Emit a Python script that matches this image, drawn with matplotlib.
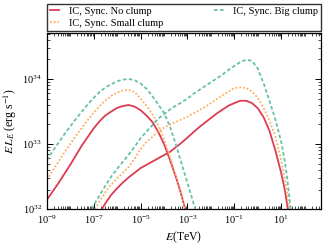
import numpy as np
import matplotlib
matplotlib.use("Agg")
import matplotlib.pyplot as plt
from matplotlib.ticker import LogLocator, NullFormatter

plt.rcParams["font.family"] = ["Liberation Serif", "DejaVu Serif"]
plt.rcParams["mathtext.fontset"] = "stix"

# ── Données (log10 E [TeV], log10 E L_E [erg/s]) ──
# Synchrotron
sync_none_logE = [-9.0, -8.75, -8.5, -8.25, -8.0, -7.75, -7.5, -7.25, -7.0, -6.75,
                  -6.5, -6.25, -6.0, -5.75, -5.5, -5.25, -5.0, -4.75, -4.5, -4.25,
                  -4.0, -3.75, -3.5, -3.3, -3.15, -3.0]
sync_none_logL = [32.14, 32.27, 32.40, 32.54, 32.68, 32.83, 32.98, 33.11, 33.24, 33.35,
                  33.44, 33.50, 33.555, 33.585, 33.60, 33.575, 33.52, 33.44, 33.34, 33.19,
                  33.00, 32.76, 32.50, 32.27, 32.07, 31.85]

sync_small_logE = [-9.0, -8.75, -8.5, -8.25, -8.0, -7.75, -7.5, -7.25, -7.0, -6.75,
                   -6.5, -6.25, -6.0, -5.75, -5.5, -5.25, -5.0, -4.75, -4.5, -4.25,
                   -4.0, -3.75, -3.5, -3.3, -3.15, -3.0]
sync_small_logL = [32.45, 32.59, 32.73, 32.87, 33.00, 33.13, 33.25, 33.37, 33.48, 33.58,
                   33.67, 33.74, 33.79, 33.825, 33.83, 33.80, 33.70, 33.59, 33.46, 33.30,
                   33.07, 32.80, 32.52, 32.29, 32.09, 31.87]

sync_big_logE = [-9.0, -8.75, -8.5, -8.25, -8.0, -7.75, -7.5, -7.25, -7.0, -6.75,
                 -6.5, -6.25, -6.0, -5.75, -5.5, -5.25, -5.0, -4.75, -4.5, -4.25,
                 -4.0, -3.75, -3.5, -3.25, -3.0, -2.75, -2.5]
sync_big_logL = [32.75, 32.89, 33.02, 33.15, 33.27, 33.39, 33.50, 33.61, 33.71, 33.80,
                 33.87, 33.92, 33.965, 33.99, 34.00, 33.98, 33.93, 33.85, 33.74, 33.61,
                 33.48, 33.27, 33.00, 32.70, 32.40, 32.10, 31.80]

# Inverse Compton
ic_none_logE = [-6.65, -6.5, -6.25, -6.0, -5.75, -5.5, -5.25, -5.0, -4.75, -4.5,
                -4.25, -4.0, -3.75, -3.5, -3.25, -3.0, -2.75, -2.5, -2.25, -2.0,
                -1.75, -1.5, -1.25, -1.0, -0.75, -0.5, -0.25, 0.0, 0.25, 0.5,
                0.75, 1.0, 1.15, 1.25, 1.33]
ic_none_logL = [32.0, 32.09, 32.22, 32.32, 32.41, 32.49, 32.56, 32.63, 32.68, 32.73,
                32.78, 32.83, 32.88, 32.95, 33.02, 33.10, 33.18, 33.26, 33.33, 33.40,
                33.47, 33.53, 33.59, 33.63, 33.665, 33.665, 33.63, 33.55, 33.41, 33.20,
                32.90, 32.55, 32.30, 32.07, 31.85]

ic_small_logE = [-6.94, -6.75, -6.5, -6.25, -6.0, -5.75, -5.5, -5.25, -5.0, -4.75,
                 -4.5, -4.25, -4.0, -3.75, -3.5, -3.25, -3.0, -2.75, -2.5, -2.25,
                 -2.0, -1.75, -1.5, -1.25, -1.0, -0.75, -0.5, -0.25, 0.0, 0.25,
                 0.5, 0.75, 1.0, 1.15, 1.25, 1.35]
ic_small_logL = [32.0, 32.12, 32.26, 32.38, 32.47, 32.56, 32.65, 32.78, 32.92, 33.03,
                 33.11, 33.19, 33.25, 33.30, 33.34, 33.38, 33.42, 33.47, 33.52, 33.57,
                 33.63, 33.69, 33.75, 33.81, 33.86, 33.87, 33.86, 33.81, 33.71, 33.55,
                 33.36, 33.12, 32.75, 32.47, 32.27, 31.95]

ic_big_logE = [-7.08, -6.9, -6.75, -6.5, -6.25, -6.0, -5.75, -5.5, -5.25, -5.0,
               -4.75, -4.5, -4.25, -4.0, -3.75, -3.5, -3.25, -3.0, -2.75, -2.5,
               -2.25, -2.0, -1.75, -1.5, -1.25, -1.0, -0.75, -0.5, -0.25, 0.0,
               0.25, 0.5, 0.75, 1.0, 1.15, 1.25, 1.35, 1.45]
ic_big_logL = [32.0, 32.12, 32.21, 32.36, 32.50, 32.62, 32.73, 32.84, 32.96, 33.09,
               33.19, 33.29, 33.39, 33.46, 33.53, 33.59, 33.64, 33.70, 33.77, 33.83,
               33.89, 33.95, 34.01, 34.07, 34.14, 34.20, 34.26, 34.295, 34.28, 34.16,
               33.93, 33.66, 33.38, 33.03, 32.74, 32.48, 32.17, 31.85]

labels = ["IC, Sync. No clump", "IC, Sync. Small clump", "IC, Sync. Big clump"]
colors = ["#dc3c52", "#fdae61", "#66c2a5"]
styles = ["-", (0, (1, 1.1)), (0, (2.0, 1.3))]


def to_lin(a):
    return 10.0 ** np.array(a)


fig = plt.figure(figsize=(3.27, 2.46), dpi=100)
ax = fig.add_axes([0.143, 0.150, 0.839, 0.714])

series = [
    (ic_none_logE, ic_none_logL, sync_none_logE, sync_none_logL),
    (ic_small_logE, ic_small_logL, sync_small_logE, sync_small_logL),
    (ic_big_logE, ic_big_logL, sync_big_logE, sync_big_logL),
]
handles = []
for (iE, iL, sE, sL), lab, c, ls in zip(series, labels, colors, styles):
    h, = ax.plot(to_lin(iE), to_lin(iL), color=c, ls=ls, lw=1.3, label=lab)
    ax.plot(to_lin(sE), to_lin(sL), color=c, ls=ls, lw=1.3)
    handles.append(h)

ax.set_xscale("log")
ax.set_yscale("log")
ax.set_xlim(1e-9, 5e2)
ax.set_ylim(1e32, 10 ** 34.7)

ax.set_xticks([10.0 ** k for k in range(-9, 3, 2)])
ax.xaxis.set_minor_locator(LogLocator(base=10, subs=np.arange(1, 10), numticks=100))
ax.xaxis.set_minor_formatter(NullFormatter())
ax.yaxis.set_major_locator(LogLocator(base=10, numticks=10))
ax.yaxis.set_minor_locator(LogLocator(base=10, subs=np.arange(2, 10), numticks=100))
ax.yaxis.set_minor_formatter(NullFormatter())

ax.tick_params(which="both", direction="in", top=True, right=True, labelsize=7.5)
ax.tick_params(which="major", length=4, width=0.7)
ax.tick_params(which="minor", length=2, width=0.5)
for sp in ax.spines.values():
    sp.set_linewidth(0.9)

ax.set_xlabel(r"$E$(TeV)", fontsize=8.5, labelpad=2)
ax.set_ylabel(r"$E\,L_E$ (erg s$^{-1}$)", fontsize=8.5, labelpad=2)

leg = fig.legend(handles=handles, labels=labels,
                 ncol=2, loc="lower left", mode="expand",
                 bbox_to_anchor=(0.143, 0.874, 0.839, 0.114),
                 borderaxespad=0, fancybox=False, edgecolor="black",
                 fontsize=7.5, handlelength=0.9, handletextpad=0.9,
                 labelspacing=0.25, borderpad=0.3, frameon=True)
leg.get_frame().set_linewidth(1.0)

fig.savefig("out.png", dpi=100)
